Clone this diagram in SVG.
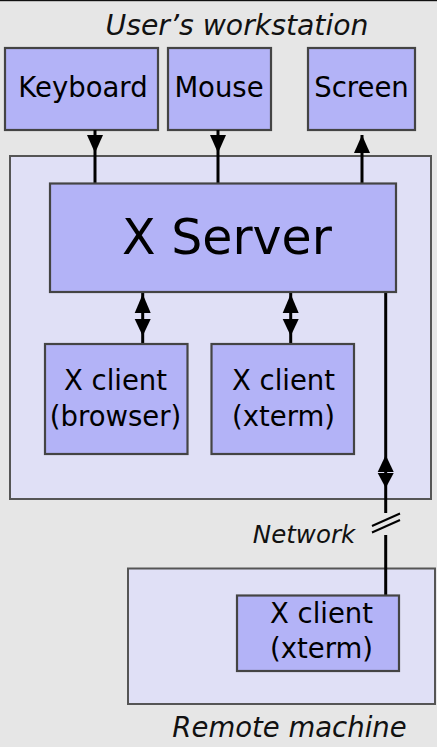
<svg xmlns="http://www.w3.org/2000/svg" width="437" height="747" viewBox="0 0 437 747">
<style>
.bg{fill:#e6e6e6}
.outer{fill:#e0e0f6;stroke:#555;stroke-width:2}
.box{fill:#b3b3f7;stroke:#444;stroke-width:2.2}
.t{font-family:"DejaVu Sans",sans-serif;font-size:27.5px;fill:#000;text-anchor:middle}
.big{font-size:49px}
.it{font-family:"DejaVu Sans",sans-serif;font-style:italic;fill:#111;text-anchor:middle}
.ln{stroke:#000;stroke-width:3;fill:none}
.ah{fill:#000}
</style>
<rect class="bg" x="0" y="0" width="437" height="747"/>
<rect x="0" y="0" width="437" height="1.2" fill="#111"/>
<g id="workstation">
<rect class="outer" x="10" y="156" width="421" height="343"/>
<text class="it" x="237" y="35" style="font-size:28.3px">User’s workstation</text>
</g>
<g id="remote">
<rect class="outer" x="128" y="568.5" width="307" height="135.5"/>
<text class="it" x="289.5" y="737" style="font-size:27.5px">Remote machine</text>
</g>
<g id="keyboard">
<rect class="box" x="5" y="48" width="153" height="82"/>
<text class="t" x="83" y="97">Keyboard</text>
</g>
<g id="mouse">
<rect class="box" x="168" y="48" width="103" height="82"/>
<text class="t" x="219" y="97">Mouse</text>
</g>
<g id="screen">
<rect class="box" x="308" y="48" width="107" height="82"/>
<text class="t" x="361.5" y="97">Screen</text>
</g>
<g id="connectors">
<line class="ln" x1="95" y1="130" x2="95" y2="183"/>
<polygon class="ah" points="87,135 103,135 95,153"/>
<line class="ln" x1="218" y1="130" x2="218" y2="183"/>
<polygon class="ah" points="210,135 226,135 218,153"/>
<line class="ln" x1="362" y1="135" x2="362" y2="183"/>
<polygon class="ah" points="354,153 370,153 362,135"/>
<line class="ln" x1="142.7" y1="292" x2="142.7" y2="344"/>
<polygon class="ah" points="134.7,313 150.7,313 142.7,294"/>
<polygon class="ah" points="134.7,319 150.7,319 142.7,336"/>
<line class="ln" x1="290.7" y1="292" x2="290.7" y2="344"/>
<polygon class="ah" points="282.7,313 298.7,313 290.7,294"/>
<polygon class="ah" points="282.7,319 298.7,319 290.7,336"/>
<line class="ln" x1="385.7" y1="292" x2="385.7" y2="513"/>
<polygon class="ah" points="377.7,472 393.7,472 385.7,455"/>
<polygon class="ah" points="377.7,473 393.7,473 385.7,488"/>
<line x1="372" y1="526" x2="400" y2="513.5" stroke="#000" stroke-width="2"/>
<line x1="372" y1="532.5" x2="400" y2="520" stroke="#000" stroke-width="2"/>
<line class="ln" x1="385.7" y1="535" x2="385.7" y2="596"/>
</g>
<g id="network">
<text class="it" x="304" y="542.5" style="font-size:24.5px">Network</text>
</g>
<g id="xserver">
<rect class="box" x="50" y="183.5" width="346" height="108.5"/>
<text class="t big" x="227" y="254">X Server</text>
</g>
<g id="client-browser">
<rect class="box" x="45" y="344" width="142.5" height="110"/>
<text class="t" x="115.5" y="390">X client</text>
<text class="t" x="115.5" y="426">(browser)</text>
</g>
<g id="client-xterm">
<rect class="box" x="211.5" y="344" width="142.5" height="110"/>
<text class="t" x="283.5" y="390">X client</text>
<text class="t" x="283.5" y="426">(xterm)</text>
</g>
<g id="client-remote">
<rect class="box" x="237" y="595.5" width="162" height="75.5"/>
<text class="t" x="321.5" y="623.3">X client</text>
<text class="t" x="321.5" y="658.3">(xterm)</text>
</g>
</svg>
